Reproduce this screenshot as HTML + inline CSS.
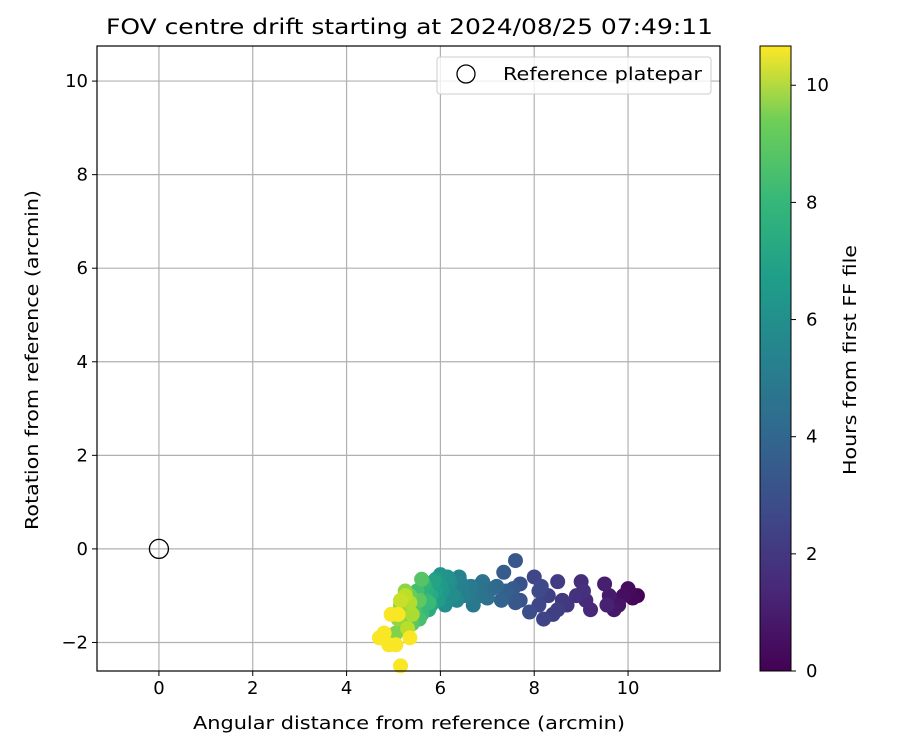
<!DOCTYPE html>
<html><head><meta charset="utf-8"><style>
body{margin:0;background:#fff;font-family:"Liberation Sans","DejaVu Sans",sans-serif}
svg text{font-family:"DejaVu Sans","Liberation Sans",sans-serif}
</style></head><body>
<svg id="c" width="900" height="750" viewBox="0 0 900 750">
<text x="106" y="34" font-size="21" textLength="607" lengthAdjust="spacingAndGlyphs">FOV centre drift starting at 2024/08/25 07:49:11</text>
<g id="grid"></g><g id="pts"></g><g id="axes"></g>
<g>
<rect x="437" y="57" width="274" height="37" fill="#fff" fill-opacity="0.8" stroke="#ccc" rx="3"/>
<circle cx="466" cy="74" r="9" fill="none" stroke="#000" stroke-width="1.3"/>
<text x="503" y="80" font-size="18" textLength="199" lengthAdjust="spacingAndGlyphs">Reference platepar</text>
</g>
<defs><linearGradient id="vg" x1="0" y1="1" x2="0" y2="0">
<stop offset="0" stop-color="#440154"/><stop offset="0.13" stop-color="#482878"/><stop offset="0.25" stop-color="#3e4989"/><stop offset="0.38" stop-color="#31688e"/><stop offset="0.5" stop-color="#26828e"/><stop offset="0.63" stop-color="#1f9e89"/><stop offset="0.75" stop-color="#35b779"/><stop offset="0.88" stop-color="#6ece58"/><stop offset="1" stop-color="#fde725"/></linearGradient></defs>
<rect x="760" y="46" width="31" height="625" fill="url(#vg)" stroke="#000"/>
<g id="cb"></g>
<text transform="translate(856,360) rotate(-90)" font-size="18" text-anchor="middle" textLength="230" lengthAdjust="spacingAndGlyphs">Hours from first FF file</text>
<text x="409" y="729" font-size="18" text-anchor="middle" textLength="432" lengthAdjust="spacingAndGlyphs">Angular distance from reference (arcmin)</text>
<text transform="translate(38,360) rotate(-90)" font-size="18" text-anchor="middle" textLength="340" lengthAdjust="spacingAndGlyphs">Rotation from reference (arcmin)</text>
</svg>
<script>
const xs=[10.2,10.1,10.0,9.9,10.05,9.8,9.7,9.6,9.5,9.55,9.2,9.1,9.0,9.05,8.9,8.7,8.6,8.5,8.4,8.5,8.3,8.2,8.1,8.0,8.1,7.9,8.15,7.7,7.6,7.6,7.5,7.35,7.4,7.55,7.3,7.2,7.0,6.9,6.85,6.7,6.65,6.5,6.4,6.35,6.2,6.1,6.0,6.05,5.95,6.15,6.3,5.85,5.8,5.75,5.65,5.7,5.6,5.5,5.55,5.45,5.4,5.6,5.35,5.3,5.2,5.15,5.1,5.25,5.05,5.0,5.4,5.35,5.3,4.95,5.1,4.7,4.8,4.9,5.05,5.35,5.15,
6.6,6.45,6.25,6.0,5.9,5.8,5.7,5.5,5.45,5.3,5.2,5.5,5.6,5.9,6.2,6.5,6.8,7.1,7.7,7.0,5.25,5.15,5.55,5.75];
const ys=[-1.0,-1.05,-0.85,-1.0,-0.95,-1.2,-1.3,-1.0,-0.75,-1.2,-1.3,-1.1,-0.7,-0.9,-1.0,-1.2,-1.1,-0.7,-1.4,-1.3,-1.0,-1.5,-1.2,-0.6,-0.9,-1.35,-0.8,-0.75,-0.25,-1.15,-1.0,-0.5,-0.9,-0.85,-1.1,-0.8,-0.95,-0.7,-1.0,-1.2,-0.8,-0.9,-0.6,-1.1,-0.8,-1.2,-0.55,-0.9,-1.1,-0.6,-1.0,-0.7,-1.0,-1.3,-0.75,-1.1,-1.4,-0.9,-1.5,-1.2,-1.6,-0.65,-1.0,-1.3,-1.6,-1.2,-1.5,-0.9,-1.8,-1.4,-1.4,-1.15,-1.7,-1.4,-1.4,-1.9,-1.8,-2.05,-2.05,-1.9,-2.5,
-0.95,-0.75,-1.0,-0.8,-0.9,-1.2,-0.9,-1.0,-1.35,-1.1,-1.3,-1.25,-1.0,-0.65,-0.7,-1.0,-0.8,-0.85,-1.1,-1.05,-1.0,-1.1,-1.1,-1.15];
const ts=[0.1,0.2,0.3,0.4,0.25,0.6,0.7,0.8,0.9,1.0,1.2,1.3,1.4,1.5,1.5,1.7,1.8,1.9,2.0,2.0,2.1,2.2,2.3,2.3,2.4,2.5,2.4,2.7,2.9,2.9,3.0,3.1,3.2,3.0,3.4,3.6,3.8,4.0,4.1,4.3,4.4,4.6,4.8,4.9,5.1,5.3,5.5,5.6,5.9,5.4,5.0,6.2,6.4,6.6,6.9,7.0,7.2,7.4,7.5,7.7,7.9,7.8,8.2,8.4,8.5,8.7,8.9,8.8,8.6,9.0,9.3,9.4,9.5,10.6,10.6,10.6,10.6,10.6,10.6,10.6,10.6,
4.4,4.7,5.2,5.7,6.0,6.3,6.7,7.3,7.6,8.3,8.8,7.1,6.8,5.9,5.3,4.6,4.1,3.7,2.8,3.9,9.6,9.8,8.0,7.2];
const xTicks=[0,2,4,6,8,10], yTicks=[-2,0,2,4,6,8,10], cTicks=[0,2,4,6,8,10];
const X0=97,X1=720,Y0=46,Y1=671, xmin=-1.32,xmax=11.96,ymin=-2.61,ymax=10.75,tmax=10.67;
const sx=v=>X0+(v-xmin)/(xmax-xmin)*(X1-X0), sy=v=>Y1-(v-ymin)/(ymax-ymin)*(Y1-Y0), sc=v=>671-v/tmax*625;
const NS="http://www.w3.org/2000/svg";
function mk(p,t,a){const e=document.createElementNS(NS,t);for(const k in a)e.setAttribute(k,a[k]);p.appendChild(e);return e;}
const stops=[[68,1,84],[72,40,120],[62,73,137],[49,104,142],[38,130,142],[31,158,137],[53,183,121],[110,206,88],[181,222,43],[253,231,37]];
function vir(t){let f=Math.max(0,Math.min(1,t/tmax))*(stops.length-1),i=Math.min(stops.length-2,Math.floor(f)),r=f-i;const c=stops[i].map((v,k)=>Math.round(v+(stops[i+1][k]-v)*r));return`rgb(${c})`;}
const g=document.getElementById('grid'),ax=document.getElementById('axes'),P=document.getElementById('pts'),cb=document.getElementById('cb');
xTicks.forEach(v=>{const x=sx(v);
const l=mk(g,'line',{x1:x,x2:x,y1:Y0,y2:Y1,stroke:'#b0b0b0','stroke-width':1.2});

mk(ax,'line',{x1:x,x2:x,y1:Y1,y2:Y1+5,stroke:'#000'});
const t=mk(ax,'text',{x:x,y:Y1+23,'font-size':18,'text-anchor':'middle'});t.textContent=v;
});
yTicks.forEach(v=>{const y=sy(v);
const l=mk(g,'line',{x1:X0,x2:X1,y1:y,y2:y,stroke:'#b0b0b0','stroke-width':1.2});

mk(ax,'line',{x1:X0-5,x2:X0,y1:y,y2:y,stroke:'#000'});
const t=mk(ax,'text',{x:X0-9,y:y+6,'font-size':18,'text-anchor':'end'});t.textContent=v<0?'\u2212'+(-v):v;
});
const fr=mk(ax,'rect',{x:X0,y:Y0,width:X1-X0,height:Y1-Y0,fill:'none',stroke:'#000','stroke-width':1.2});

const order=ts.map((t,i)=>i).sort((a,b)=>ts[a]-ts[b]);
order.forEach(i=>{const c=mk(P,'circle',{cx:sx(xs[i]),cy:sy(ys[i]),r:7.5,fill:vir(ts[i])});
});
const ref=mk(P,'circle',{cx:sx(0),cy:sy(0),r:9.5,fill:'none',stroke:'#000','stroke-width':1.3});

cTicks.forEach(v=>{const y=sc(v);mk(cb,'line',{x1:791,x2:796,y1:y,y2:y,stroke:'#000'});
const t=mk(cb,'text',{x:806,y:y+6,'font-size':18});t.textContent=v;
});
</script>
</body></html>
